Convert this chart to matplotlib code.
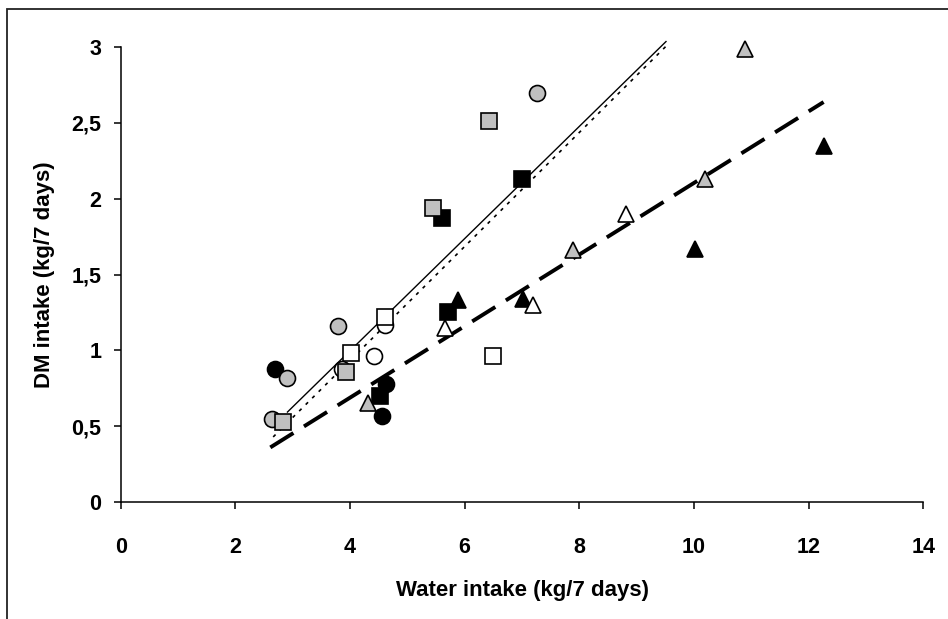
import matplotlib
matplotlib.use("Agg")
import matplotlib.pyplot as plt
from matplotlib.patches import Rectangle

plt.rcParams['font.family'] = ['Liberation Sans', 'DejaVu Sans']
plt.rcParams['font.weight'] = 'bold'

# water intake (x) and DM intake (y), kg/7 days
circ_black_x = [2.69, 4.63, 4.56]
circ_black_y = [0.88, 0.78, 0.57]
circ_gray_x = [2.90, 2.64, 3.79, 7.27]
circ_gray_y = [0.82, 0.55, 1.16, 2.70]
circ_open_x = [3.86, 4.42, 4.61]
circ_open_y = [0.88, 0.96, 1.17]

sq_black_x = [4.53, 5.71, 5.61, 7.00]
sq_black_y = [0.70, 1.25, 1.87, 2.13]
sq_gray_x = [2.83, 3.93, 5.44, 6.43]
sq_gray_y = [0.53, 0.86, 1.94, 2.51]
sq_open_x = [4.02, 4.61, 6.50]
sq_open_y = [0.98, 1.22, 0.96]

tri_black_x = [5.89, 7.02, 10.02, 12.26]
tri_black_y = [1.33, 1.34, 1.67, 2.35]
tri_gray_x = [4.32, 7.89, 10.20, 10.89]
tri_gray_y = [0.65, 1.66, 2.13, 2.99]
tri_open_x = [5.65, 7.20, 8.82]
tri_open_y = [1.15, 1.30, 1.90]

# trend lines: slope, intercept, x range
solid_fit = (0.370, -0.483, 2.90, 9.52)
dotted_fit = (0.376, -0.571, 2.66, 9.57)
dashed_fit = (0.236, -0.256, 2.61, 12.26)

xticks = [0, 2, 4, 6, 8, 10, 12, 14]
yticks = [0, 0.5, 1, 1.5, 2, 2.5, 3]
ytick_labels = ['0', '0,5', '1', '1,5', '2', '2,5', '3']

fig = plt.figure(figsize=(9.48, 6.19), dpi=100)
ax = fig.add_axes([0.1273, 0.189, 0.974 - 0.1273, 0.924 - 0.189])

# outer chart border (bottom and right are cut off in the original)
fig.patches.append(Rectangle((7 / 948, -0.1), 2, 1 - 9 / 619 + 0.1, transform=fig.transFigure,
                             fill=False, edgecolor='#222222', linewidth=1.3))

def fit_line(fit, **kw):
    m, b, x0, x1 = fit
    ax.plot([x0, x1], [m * x0 + b, m * x1 + b], clip_on=False, zorder=2, **kw)

fit_line(solid_fit, color='black', lw=1.0, solid_capstyle='butt')
fit_line(dotted_fit, color='black', lw=1.2, linestyle=(0, (2, 3.5)))
fit_line(dashed_fit, color='black', lw=2.8, linestyle=(0, (7, 3.2)), dash_capstyle='butt')

gray = '#c0c0c0'
def pts(x, y, marker, face, ms=11.5):
    ax.plot(x, y, linestyle='none', marker=marker, markersize=ms, markerfacecolor=face,
            markeredgecolor='black', markeredgewidth=1.2, zorder=3, clip_on=False)

pts(circ_black_x, circ_black_y, 'o', 'black')
pts(circ_gray_x, circ_gray_y, 'o', gray)
pts(circ_open_x, circ_open_y, 'o', 'white')
pts(sq_black_x, sq_black_y, 's', 'black', 11)
pts(sq_gray_x, sq_gray_y, 's', gray, 11)
pts(sq_open_x, sq_open_y, 's', 'white', 11)
pts(tri_black_x, tri_black_y, '^', 'black', 12)
pts(tri_gray_x, tri_gray_y, '^', gray, 12)
pts(tri_open_x, tri_open_y, '^', 'white', 12)

ax.set_xlim(0, 14)
ax.set_ylim(0, 3)
ax.set_xticks(xticks)
ax.set_xticklabels([str(t) for t in xticks])
ax.set_yticks(yticks)
ax.set_yticklabels(ytick_labels)
for s in ['top', 'right']:
    ax.spines[s].set_visible(False)
for s in ['left', 'bottom']:
    ax.spines[s].set_linewidth(1.1)
ax.tick_params(direction='out', length=5, width=1.1, labelsize=15.5)
ax.tick_params(axis='x', pad=20)
ax.tick_params(axis='y', pad=9)

ax.set_xlabel('Water intake (kg/7 days)', fontsize=16, fontweight='bold', labelpad=16)
ax.set_ylabel('DM intake (kg/7 days)', fontsize=16, fontweight='bold', labelpad=12)

fig.savefig('out.png', dpi=100)
